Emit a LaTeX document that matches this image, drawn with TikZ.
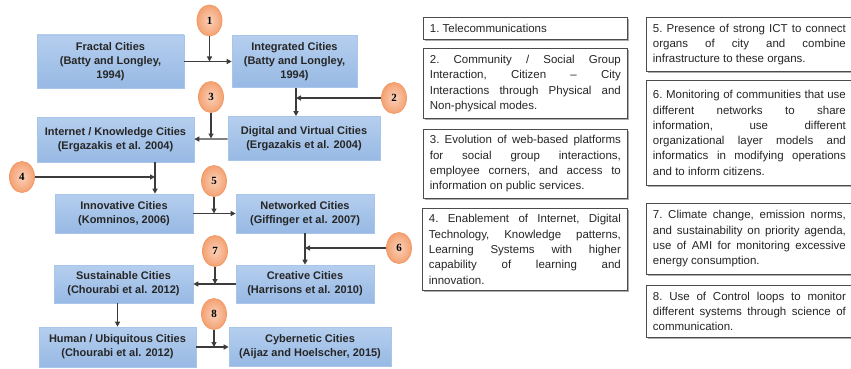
\documentclass[tikz,border=0pt]{standalone}
\usepackage{fontspec}
\setmainfont{Liberation Sans}
\newfontfamily\numfont{Liberation Serif}
\usepackage{tikz}
\usetikzlibrary{shapes,arrows.meta,shadows}

\definecolor{boxtop}{HTML}{B5CEEE}
\definecolor{boxbot}{HTML}{97B9E4}
\definecolor{boxedge}{HTML}{A9C6EA}
\definecolor{numfill}{HTML}{F8BE9B}
\definecolor{numdark}{HTML}{F4A172}
\definecolor{numedge}{HTML}{F29A66}
\definecolor{linegray}{HTML}{3C3C3C}

\newcommand{\cityfont}{\fontsize{11}{14.3}\selectfont\bfseries}
\newcommand{\notefont}{\fontsize{11.5}{15.3}\selectfont\frenchspacing\tolerance=9999\hyphenpenalty=10000}

\tikzstyle{citybox} = [rectangle, draw=boxedge, line width=0.6pt, top color=boxtop, bottom color=boxbot, align=center, font=\cityfont, text=black!85, inner sep=2pt]
\tikzstyle{numnode} = [ellipse, draw=numedge, line width=0.8pt, inner color=numfill!70!white, outer color=numdark, minimum width=25pt, minimum height=31pt, inner sep=0pt, font=\numfont\bfseries\fontsize{11}{12}\selectfont]
\tikzstyle{notebox} = [rectangle, draw=black!70, line width=0.8pt, fill=white, anchor=north west, align=justify, font=\notefont, text=black!85, inner xsep=6.5pt, inner ysep=2pt, drop shadow={shadow xshift=1.2pt, shadow yshift=-1.2pt, fill=black!40, opacity=0.8}]
\tikzstyle{line} = [draw=linegray, line width=1.2pt]
\tikzstyle{arrowline} = [line, -{Triangle[length=5pt,width=5pt]}]

\begin{document}
\begin{tikzpicture}[x=1pt, y=-1pt]
	\useasboundingbox (0,0) rectangle (851,369);

	% city boxes
	\node [citybox, minimum width=147pt, minimum height=53pt] (fractal) at (110.5, 61.5) {Fractal Cities\\(Batty and Longley,\\1994)};
	\node [citybox, minimum width=125pt, minimum height=52pt] (integrated) at (294.5, 61.5) {Integrated Cities\\(Batty and Longley,\\1994)};
	\node [citybox, minimum width=157pt, minimum height=45pt] (internet) at (115.5, 139.5) {Internet / Knowledge Cities\\(Ergazakis et al. 2004)};
	\node [citybox, minimum width=152pt, minimum height=44pt] (digital) at (304, 138.5) {Digital and Virtual Cities\\(Ergazakis et al. 2004)};
	\node [citybox, minimum width=138pt, minimum height=39pt] (innovative) at (124, 213.5) {Innovative Cities\\(Komninos, 2006)};
	\node [citybox, minimum width=138pt, minimum height=39pt] (networked) at (305, 213.5) {Networked Cities\\(Giffinger et al. 2007)};
	\node [citybox, minimum width=139pt, minimum height=38pt] (sustainable) at (123.5, 284) {Sustainable Cities\\(Chourabi et al. 2012)};
	\node [citybox, minimum width=138pt, minimum height=38pt] (creative) at (305, 284) {Creative Cities\\(Harrisons et al. 2010)};
	\node [citybox, minimum width=157pt, minimum height=40pt] (human) at (117.5, 347) {Human / Ubiquitous Cities\\(Chourabi et al. 2012)};
	\node [citybox, minimum width=162pt, minimum height=39pt] (cyber) at (310, 347) {Cybernetic Cities\\(Aijaz and Hoelscher, 2015)};

	% numbered circles
	\node [numnode] (c1) at (209.5, 20.5) {1};
	\node [numnode] (c2) at (394, 98) {2};
	\node [numnode] (c3) at (211, 97) {3};
	\node [numnode] (c4) at (22, 177) {4};
	\node [numnode] (c5) at (214, 181) {5};
	\node [numnode] (c6) at (399, 248) {6};
	\node [numnode] (c7) at (215, 251) {7};
	\node [numnode] (c8) at (214, 314) {8};

	% junctions
	\coordinate (j1) at (209.5, 61.5);
	\coordinate (j2) at (296, 98);
	\coordinate (j3) at (211, 138.5);
	\coordinate (j4) at (155, 177);
	\coordinate (j5) at (214, 213.5);
	\coordinate (j6) at (305, 248);
	\coordinate (j7) at (215, 284);
	\coordinate (j8) at (214, 347);

	% connectors
	\path [arrowline] (fractal) -- (integrated);
	\path [arrowline] (c1) -- (j1);
	\path [arrowline] (j2 |- integrated.south) -- (j2 |- digital.north);
	\path [arrowline] (c2) -- (j2);
	\path [arrowline] (digital) -- (internet);
	\path [arrowline] (c3) -- (j3);
	\path [arrowline] (j4 |- internet.south) -- (j4 |- innovative.north);
	\path [arrowline] (c4) -- (j4);
	\path [arrowline] (innovative) -- (networked);
	\path [arrowline] (c5) -- (j5);
	\path [arrowline] (j6 |- networked.south) -- (j6 |- creative.north);
	\path [arrowline] (c6) -- (j6);
	\path [arrowline] (creative) -- (sustainable);
	\path [arrowline] (c7) -- (j7);
	\path [arrowline] (human.north |- sustainable.south) -- (human.north);
	\path [arrowline] (human) -- (cyber);
	\path [arrowline] (c8) -- (j8);

	% notes
	\node [notebox, text width=191pt, minimum height=22pt] (t1) at (423, 17) {1. Telecommunications};
	\node [notebox, text width=191pt, minimum height=70pt] (t2) at (423, 48) {2. Community / Social Group\linebreak Interaction, Citizen -- City\linebreak Interactions through Physical and\linebreak Non-physical modes.};
	\node [notebox, text width=191pt, minimum height=69pt] (t3) at (423, 129) {3. Evolution of web-based platforms\linebreak for social group interactions,\linebreak employee corners, and access to\linebreak information on public services.};
	\node [notebox, text width=192pt, minimum height=82pt] (t4) at (422, 208) {4. Enablement of Internet, Digital\linebreak Technology, Knowledge patterns,\linebreak Learning Systems with higher\linebreak capability of learning and\linebreak innovation.};
	\node [notebox, text width=193pt, minimum height=54pt] (t5) at (646, 17) {5. Presence of strong ICT to connect\linebreak organs of city and combine\linebreak infrastructure to these organs.};
	\node [notebox, text width=193pt, minimum height=105pt] (t6) at (646, 80) {6. Monitoring of communities that use\linebreak different networks to share\linebreak information, use different\linebreak organizational layer models and\linebreak informatics in modifying operations\linebreak and to inform citizens.};
	\node [notebox, text width=193pt, minimum height=71pt] (t7) at (646, 203) {7. Climate change, emission norms,\linebreak and sustainability on priority agenda,\linebreak use of AMI for monitoring excessive\linebreak energy consumption.};
	\node [notebox, text width=193pt, minimum height=52pt] (t8) at (646, 285) {8. Use of Control loops to monitor\linebreak different systems through science of\linebreak communication.};
\end{tikzpicture}
\end{document}
